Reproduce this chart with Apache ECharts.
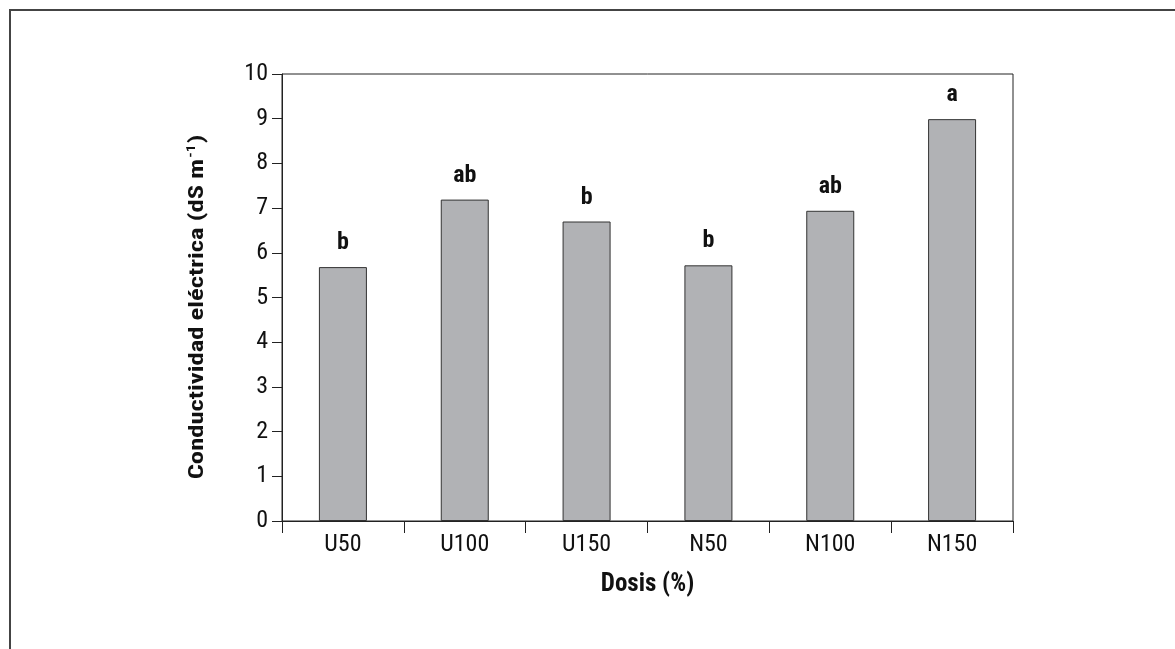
<!DOCTYPE html>
<html>
<head>
<meta charset="utf-8">
<script src="https://cdn.jsdelivr.net/npm/echarts@6/dist/echarts.min.js"></script>
<style>
html,body{margin:0;padding:0;background:#fff;}
#c{width:1175px;height:649px;}
</style>
</head>
<body>
<div id="c"></div>
<script>
var categories = ['U50', 'U100', 'U150', 'N50', 'N100', 'N150'];
var values = [5.68, 7.19, 6.70, 5.72, 6.94, 8.99];
var letters = ['b', 'ab', 'b', 'b', 'ab', 'a'];
var yTicks = [0, 1, 2, 3, 4, 5, 6, 7, 8, 9, 10];
var xTitle = 'Dosis (%)';
var yTitleMain = 'Conductividad eléctrica (dS m';
var yTitleSup = '-1';

var FONT = 'Roboto, "Noto Sans", sans-serif';
var STRETCH = 'condensed';
var chart = echarts.init(document.getElementById('c'), null, {renderer: 'canvas'});
chart.setOption({
  animation: false,
  backgroundColor: '#fff',
  textStyle: {fontFamily: FONT, fontStyle: STRETCH},
  graphic: [{
    type: 'polyline',
    silent: true,
    shape: {points: [[10, 649], [10, 10], [1175, 10]]},
    style: {stroke: '#444', lineWidth: 2, fill: null}
  }, {
    type: 'text',
    silent: true,
    x: 198, y: 307,
    rotation: Math.PI / 2,
    scaleX: 1.27,
    style: {
      text: '{n|' + yTitleMain + '}{s|' + yTitleSup + '}{n|)}',
      align: 'center',
      verticalAlign: 'middle',
      fill: '#111',
      fontFamily: FONT,
      fontStyle: STRETCH,
      fontWeight: 'bold',
      fontSize: 21,
      rich: {
        n: {fontSize: 21, fontWeight: 'bold', fontStyle: STRETCH, fontFamily: FONT, fill: '#111', lineHeight: 25},
        s: {fontSize: 12, fontWeight: 'bold', fontStyle: STRETCH, fontFamily: FONT, fill: '#111', verticalAlign: 'top', lineHeight: 25, padding: [0, 1, 8, 1]}
      }
    }
  }],
  grid: {
    left: 282, right: 162, top: 74, bottom: 128,
    show: true, borderColor: '#222', borderWidth: 1, backgroundColor: 'transparent'
  },
  xAxis: {
    type: 'category',
    data: categories,
    boundaryGap: true,
    axisLine: {lineStyle: {color: '#222', width: 1}},
    axisTick: {show: true, alignWithLabel: false, length: 12, lineStyle: {color: '#222'}},
    axisLabel: {color: '#111', fontSize: 24, margin: 12, fontFamily: FONT, fontStyle: STRETCH},
    name: xTitle,
    nameLocation: 'middle',
    nameGap: 51,
    nameTextStyle: {color: '#111', fontSize: 25, fontWeight: 'bold', fontFamily: FONT, fontStyle: STRETCH}
  },
  yAxis: {
    type: 'value',
    min: yTicks[0], max: yTicks[yTicks.length - 1], interval: 1,
    splitLine: {show: false},
    axisLine: {show: true, lineStyle: {color: '#222', width: 1}},
    axisTick: {show: true, length: 10, lineStyle: {color: '#222'}},
    axisLabel: {color: '#111', fontSize: 24, margin: 14, fontFamily: FONT, fontStyle: STRETCH}
  },
  series: [{
    type: 'bar',
    data: values,
    barWidth: 48,
    itemStyle: {color: '#b1b2b5', borderColor: '#333', borderWidth: 1},
    label: {
      show: true,
      position: 'top',
      distance: 12,
      formatter: function (p) { return letters[p.dataIndex]; },
      color: '#111', fontSize: 24, fontWeight: 'bold', fontFamily: FONT, fontStyle: STRETCH
    }
  }]
});
</script>
</body>
</html>
